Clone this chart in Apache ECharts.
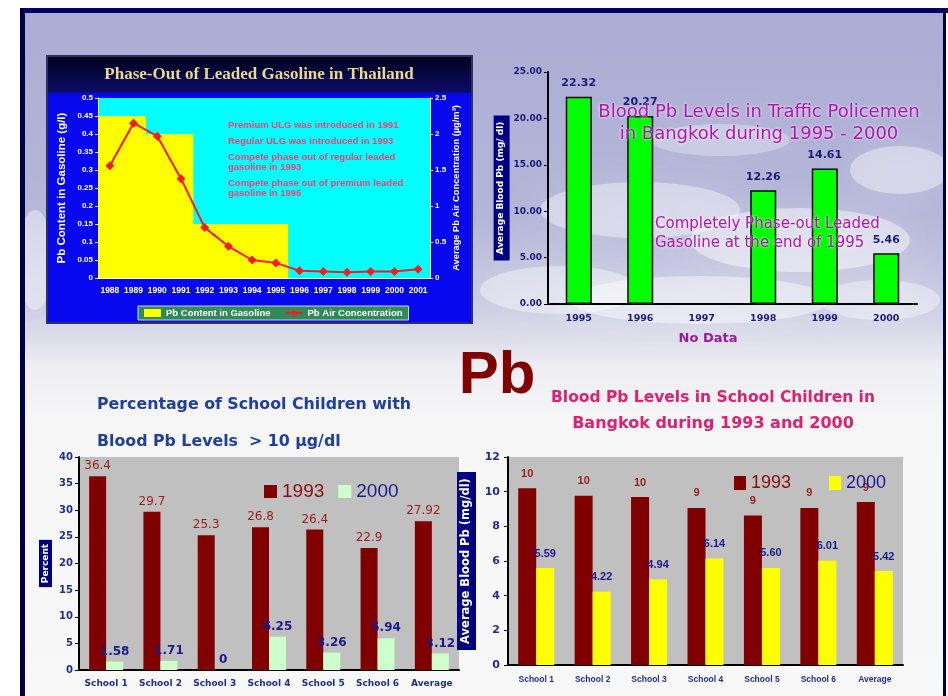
<!DOCTYPE html>
<html><head><meta charset="utf-8">
<script src="https://cdn.jsdelivr.net/npm/echarts@6/dist/echarts.min.js"></script>
<style>html,body{margin:0;padding:0;background:#fff}#c{width:948px;height:696px}</style>
</head><body><div id="c"></div>
<script>
// ---- Chart 1: Phase-out of leaded gasoline ----
const years = ['1988','1989','1990','1991','1992','1993','1994','1995','1996','1997','1998','1999','2000','2001'];
const gasolinePb = [0.45,0.45,0.4,0.4,0.15,0.15,0.15,0.15,0,0,0,0,0,0];
const airPb = [1.56,2.15,1.97,1.38,0.70,0.44,0.25,0.21,0.10,0.09,0.08,0.09,0.09,0.12];
const notes1 = ['Premium ULG was introduced in 1991','Regular ULG was introduced in 1993','Compete phase out of regular leaded\ngasoline in 1993','Compete phase out of premium leaded\ngasoline in 1995'];
// ---- Chart 2: traffic policemen ----
const policeYears = ['1995','1996','1997','1998','1999','2000'];
const policePb = [22.32,20.27,null,12.26,14.61,5.46];
// ---- Chart 3: percentage of school children > 10 ug/dl ----
const schools = ['School 1','School 2','School 3','School 4','School 5','School 6','Average'];
const pct1993 = [36.4,29.7,25.3,26.8,26.4,22.9,27.92];
const pct2000 = [1.58,1.71,0,6.25,3.26,5.94,3.12];
// ---- Chart 4: blood Pb in school children ----
const blood1993 = [10.2,9.77,9.69,9.06,8.63,9.06,9.4];
const blood1993Labels = ['10','10','10','9','9','9','9'];
const blood2000 = [5.59,4.22,4.94,6.14,5.60,6.01,5.42];
const blood2000Labels = ['5.59','4.22','4.94','6.14','5.60','6.01','5.42'];

const chart = echarts.init(document.getElementById('c'), null, {renderer:'canvas'});
const NAVY = '#1a1a7a';
const W = 'Liberation Sans';
const V = 'DejaVu Sans';

function cloud(x,y,rx,ry,op){
  return {type:'circle', z:-9, shape:{cx:0,cy:0,r:ry}, x:x, y:y, scaleX:rx/ry, scaleY:1,
    style:{fill:'rgba(255,255,255,'+op+')', shadowBlur:40, shadowColor:'rgba(255,255,255,'+op+')'}, silent:true};
}

const graphics = [
  {type:'rect', z:-10, shape:{x:0,y:0,width:948,height:696}, style:{fill:'#ffffff'}},
  {type:'rect', z:-10, shape:{x:22,y:10,width:922,height:686},
    style:{fill:new echarts.graphic.LinearGradient(0,0,0,1,[
      {offset:0,color:'#aaacd4'},{offset:0.3,color:'#b4b6d8'},{offset:0.44,color:'#cdcee3'},
      {offset:0.52,color:'#eeeef3'},{offset:0.6,color:'#f6f6f7'},{offset:1,color:'#f8f8f8'}])}},
  cloud(640,210,100,28,0.4), cloud(800,240,110,32,0.45), cloud(900,170,50,24,0.4),
  cloud(560,290,80,24,0.4), cloud(700,300,130,24,0.45), cloud(35,260,18,50,0.4),
  cloud(720,140,70,16,0.3), cloud(880,300,60,20,0.4),
  // frame
  {type:'rect', z:-8, shape:{x:20,y:8,width:928,height:5}, style:{fill:'#000066'}},
  {type:'rect', z:-8, shape:{x:20,y:8,width:5,height:688}, style:{fill:'#000044'}},
  {type:'rect', z:-8, shape:{x:943,y:8,width:3,height:688}, style:{fill:'#000044'}},
  // chart 1 panel
  {type:'rect', z:-6, shape:{x:47,y:56,width:425,height:267}, style:{fill:'#0808f0', stroke:'#303060', lineWidth:2}},
  {type:'rect', z:-5, shape:{x:48,y:57,width:423,height:36},
    style:{fill:new echarts.graphic.LinearGradient(0,0,0,1,[{offset:0,color:'#02021e'},{offset:1,color:'#0c0c6a'}])}},
  {type:'text', z:10, x:259, y:75, style:{text:'Phase-Out of Leaded Gasoline in Thailand', fill:'#e8d890',
    font:'bold 17px "Liberation Serif"', align:'center', verticalAlign:'middle'}},
  {type:'text', z:10, x:228, y:125, style:{text:notes1[0], fill:'#f04078', font:'bold 9.5px "Liberation Sans"', verticalAlign:'middle'}},
  {type:'text', z:10, x:228, y:141, style:{text:notes1[1], fill:'#f04078', font:'bold 9.5px "Liberation Sans"', verticalAlign:'middle'}},
  {type:'text', z:10, x:228, y:162, style:{text:notes1[2], fill:'#f04078', font:'bold 9.5px "Liberation Sans"', verticalAlign:'middle', lineHeight:10}},
  {type:'text', z:10, x:228, y:188, style:{text:notes1[3], fill:'#f04078', font:'bold 9.5px "Liberation Sans"', verticalAlign:'middle', lineHeight:10}},
  // chart 2 overlay texts
  {type:'text', z:20, x:759, y:112, style:{text:'Blood Pb Levels in Traffic Policemen', fill:'#b014b0',
    font:'18px "DejaVu Sans"', align:'center', verticalAlign:'middle', textShadowColor:'#ffffff', textShadowBlur:3}},
  {type:'text', z:20, x:759, y:134, style:{text:'in Bangkok during 1995 - 2000', fill:'#b014b0',
    font:'18px "DejaVu Sans"', align:'center', verticalAlign:'middle', textShadowColor:'#ffffff', textShadowBlur:3}},
  {type:'text', z:20, x:655, y:224, style:{text:'Completely Phase-out Leaded', fill:'#b014b0',
    font:'15px "DejaVu Sans"', verticalAlign:'middle', textShadowColor:'#ffffff', textShadowBlur:3}},
  {type:'text', z:20, x:655, y:243, style:{text:'Gasoline at the end of 1995', fill:'#b014b0',
    font:'15px "DejaVu Sans"', verticalAlign:'middle', textShadowColor:'#ffffff', textShadowBlur:3}},
  {type:'text', z:20, x:708, y:339, style:{text:'No Data', fill:'#9a1a9a',
    font:'bold 13px "DejaVu Sans"', align:'center', verticalAlign:'middle'}},
  // big Pb
  {type:'text', z:20, x:497, y:376, style:{text:'Pb', fill:'#800000',
    font:'bold 60px "Liberation Sans"', align:'center', verticalAlign:'middle'}},
  // chart 3 titles
  {type:'text', z:20, x:97, y:405, style:{text:'Percentage of School Children with', fill:'#1f3f9f',
    font:'bold 15.8px "DejaVu Sans"', verticalAlign:'middle'}},
  {type:'text', z:20, x:97, y:442, style:{text:'Blood Pb Levels  > 10 \u00b5g/dl', fill:'#1f3f9f',
    font:'bold 15.8px "DejaVu Sans"', verticalAlign:'middle'}},
  // chart 4 titles
  {type:'text', z:20, x:713, y:398, style:{text:'Blood Pb Levels in School Children in', fill:'#e0206e',
    font:'bold 15.5px "DejaVu Sans"', align:'center', verticalAlign:'middle'}},
  {type:'text', z:20, x:713, y:424, style:{text:'Bangkok during 1993 and 2000', fill:'#e0206e',
    font:'bold 16px "DejaVu Sans"', align:'center', verticalAlign:'middle'}}
];

const whiteAxis = {lineStyle:{color:'#ffffff', width:1}};
const blackAxis = {lineStyle:{color:'#000000', width:2}};

const option = {
  animation:false,
  graphic:{elements:graphics},
  grid:[
    {left:98, top:98, width:332, height:180, show:true, backgroundColor:'#00ffff', borderWidth:0},
    {left:548, top:72, width:369, height:232},
    {left:79, top:457, width:380, height:213, show:true, backgroundColor:'#c0c0c0', borderWidth:0},
    {left:508, top:457, width:395, height:208, show:true, backgroundColor:'#c0c0c0', borderWidth:0}
  ],
  legend:[
    {left:138, top:306, padding:[2,6], backgroundColor:'#2e8b57', borderColor:'#c8d8c8', borderWidth:1,
      itemWidth:17, itemHeight:8, itemGap:14,
      textStyle:{color:'#ffffff', fontFamily:W, fontWeight:'bold', fontSize:9.5},
      data:[{name:'Pb Content in Gasoline', icon:'rect'},'Pb Air Concentration']},
    {left:259, top:477, itemWidth:13, itemHeight:13, itemGap:14, icon:'rect',
      formatter:n=>n.slice(1),
      textStyle:{fontFamily:W, fontSize:19},
      data:[{name:'P1993', textStyle:{color:'#8b0a0a'}},{name:'P2000', textStyle:{color:'#1a1a8a'}}]},
    {left:729, top:469, itemWidth:12, itemHeight:14, itemGap:38, icon:'rect',
      formatter:n=>n.slice(1),
      textStyle:{fontFamily:W, fontSize:18},
      data:[{name:'B1993', textStyle:{color:'#8b0a0a'}},{name:'B2000', textStyle:{color:'#1a1a8a'}}]}
  ],
  xAxis:[
    {type:'category', gridIndex:0, data:years, axisLine:whiteAxis, axisTick:{lineStyle:{color:'#fff'}},
      axisLabel:{color:'#fff', fontFamily:W, fontWeight:'bold', fontSize:8.5, interval:0, margin:8}},
    {type:'category', gridIndex:1, data:policeYears, axisLine:blackAxis, axisTick:{length:6, lineStyle:{color:'#000', width:1.5}},
      axisLabel:{color:NAVY, fontFamily:V, fontWeight:'bold', fontSize:9.5, margin:10}},
    {type:'category', gridIndex:2, data:schools, axisLine:blackAxis, axisTick:{length:4, lineStyle:{color:'#000', width:1.5}},
      axisLabel:{color:'#1f2f8f', fontFamily:V, fontWeight:'bold', fontSize:9, interval:0, margin:9}},
    {type:'category', gridIndex:3, data:schools, axisLine:blackAxis, axisTick:{length:4, lineStyle:{color:'#000', width:1.5}},
      axisLabel:{color:'#1f2f8f', fontFamily:W, fontWeight:'bold', fontSize:8.5, interval:0, margin:10}}
  ],
  yAxis:[
    {type:'value', gridIndex:0, min:0, max:0.5, interval:0.05, splitLine:{show:false},
      axisLine:{show:true, lineStyle:{color:'#fff'}}, axisTick:{show:true, length:3, lineStyle:{color:'#fff'}},
      axisLabel:{color:'#fff', fontFamily:W, fontWeight:'bold', fontSize:8, margin:5},
      name:'Pb Content in Gasoline (g/l)', nameLocation:'middle', nameGap:30, nameRotate:90,
      nameTextStyle:{color:'#fff', fontFamily:W, fontWeight:'bold', fontSize:11.5}},
    {type:'value', gridIndex:0, min:0, max:2.5, interval:0.5, position:'right', splitLine:{show:false},
      axisLine:{show:true, lineStyle:{color:'#fff'}}, axisTick:{show:true, length:3, lineStyle:{color:'#fff'}},
      axisLabel:{color:'#fff', fontFamily:W, fontWeight:'bold', fontSize:8, margin:5},
      name:'Average Pb Air Concentration (\u00b5g/m\u00b3)', nameLocation:'middle', nameGap:22, nameRotate:90,
      nameTextStyle:{color:'#fff', fontFamily:W, fontWeight:'bold', fontSize:9.3}},
    {type:'value', gridIndex:1, min:0, max:25, interval:5, splitLine:{show:false},
      axisLine:{show:true, lineStyle:{color:'#000', width:2}}, axisTick:{show:true, length:4, lineStyle:{color:'#000'}},
      axisLabel:{color:NAVY, fontFamily:V, fontWeight:'bold', fontSize:9, margin:6, formatter:v=>v.toFixed(2)},
      name:'Average Blood Pb (mg/ dl)', nameLocation:'middle', nameGap:38, nameRotate:90,
      nameTextStyle:{color:'#fff', backgroundColor:'#000080', padding:[3,6,4,6], fontFamily:V, fontWeight:'bold', fontSize:9}},
    {type:'value', gridIndex:2, min:0, max:40, interval:5, splitLine:{show:false},
      axisLine:{show:true, lineStyle:{color:'#000', width:2}}, axisTick:{show:true, length:4, lineStyle:{color:'#000'}},
      axisLabel:{color:'#1f2f8f', fontFamily:V, fontWeight:'bold', fontSize:10, margin:6},
      name:'Percent', nameLocation:'middle', nameGap:27, nameRotate:90,
      nameTextStyle:{color:'#fff', backgroundColor:'#000080', padding:[2,4,2,4], fontFamily:V, fontWeight:'bold', fontSize:9}},
    {type:'value', gridIndex:3, min:0, max:12, interval:2, splitLine:{show:false},
      axisLine:{show:true, lineStyle:{color:'#000', width:2}}, axisTick:{show:true, length:4, lineStyle:{color:'#000'}},
      axisLabel:{color:'#1f2f8f', fontFamily:V, fontWeight:'bold', fontSize:11, margin:8},
      name:'Average Blood Pb (mg/dl)', nameLocation:'middle', nameGap:32, nameRotate:90,
      nameTextStyle:{color:'#fff', backgroundColor:'#000080', padding:[3,6,4,6], fontFamily:V, fontWeight:'bold', fontSize:11.5}}
  ],
  series:[
    {name:'Pb Content in Gasoline', type:'bar', xAxisIndex:0, yAxisIndex:0, data:gasolinePb,
      barWidth:'104%', itemStyle:{color:'#ffff00'}},
    {name:'Pb Air Concentration', type:'line', xAxisIndex:0, yAxisIndex:1, data:airPb, z:5,
      symbol:'diamond', symbolSize:9, itemStyle:{color:'#ff1a1a'}, lineStyle:{color:'#ff1a1a', width:2}},
    {name:'police', type:'bar', xAxisIndex:1, yAxisIndex:2, data:policePb, barWidth:26,
      itemStyle:{color:'#00ff00', borderColor:'#000', borderWidth:1.5},
      label:{show:true, position:'top', distance:8, color:NAVY, fontFamily:V, fontWeight:'bold', fontSize:11,
        formatter:p=>p.value==null?'':p.value.toFixed(2)}},
    {name:'P1993', type:'bar', xAxisIndex:2, yAxisIndex:3, data:pct1993, barWidth:17, barGap:'0%',
      itemStyle:{color:'#800000'},
      label:{show:true, position:'top', distance:4, color:'#9b1b1b', fontFamily:V, fontSize:12}},
    {name:'P2000', type:'bar', xAxisIndex:2, yAxisIndex:3, data:pct2000, barWidth:17, barGap:'0%',
      itemStyle:{color:'#ccffcc'},
      label:{show:true, position:'top', distance:4, color:'#1a1a8a', fontFamily:V, fontWeight:'bold', fontSize:12}},
    {name:'B1993', type:'bar', xAxisIndex:3, yAxisIndex:4, data:blood1993, barWidth:18, barGap:'0%',
      itemStyle:{color:'#800000'},
      label:{show:true, position:'top', distance:9, color:'#9b1b1b', fontFamily:W, fontWeight:'bold', fontSize:11,
        formatter:p=>blood1993Labels[p.dataIndex]}},
    {name:'B2000', type:'bar', xAxisIndex:3, yAxisIndex:4, data:blood2000, barWidth:18, barGap:'0%',
      itemStyle:{color:'#ffff00'},
      label:{show:true, position:'top', distance:9, color:'#1a1a8a', fontFamily:W, fontWeight:'bold', fontSize:11,
        formatter:p=>blood2000Labels[p.dataIndex]}}
  ]
};
chart.setOption(option);
</script>
</body></html>
